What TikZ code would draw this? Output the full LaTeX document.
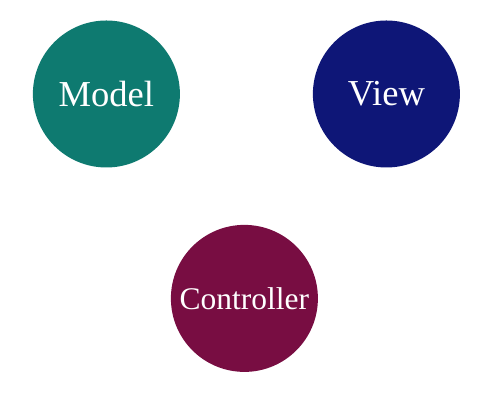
\documentclass[tikz,border=0pt]{standalone}
\usepackage{fontspec}
\setmainfont{Liberation Serif}
\usepackage{tikz}
\definecolor{modelteal}{HTML}{0E7A70}
\definecolor{viewnavy}{HTML}{0E1677}
\definecolor{ctrlwine}{HTML}{780D42}
\tikzset{mvcball/.style={circle, minimum size=3.675cm, inner sep=0pt, text=white}}

\begin{document}
\begin{tikzpicture}
  \useasboundingbox (0, 0) rectangle (12.5, 10);
  \node [mvcball, fill=modelteal, font=\fontsize{26}{30}\selectfont] (model) at (2.66, 7.65) {Model};
  \node [mvcball, fill=viewnavy, font=\fontsize{26}{30}\selectfont] (view) at (9.66, 7.65) {View};
  \node [mvcball, fill=ctrlwine, font=\fontsize{22.4}{26}\selectfont] (controller) at (6.11, 2.54) {Controller};

\end{tikzpicture}
\end{document}
